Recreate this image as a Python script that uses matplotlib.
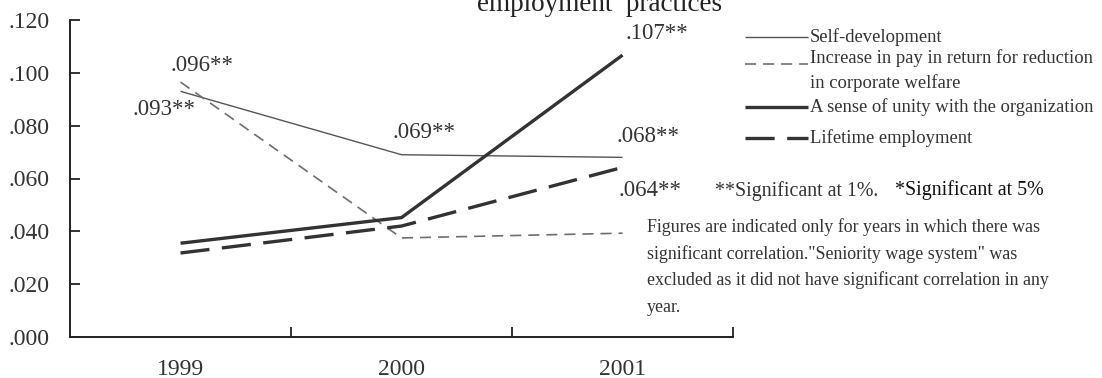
import matplotlib
matplotlib.use("Agg")
import matplotlib.pyplot as plt
from matplotlib.lines import Line2D

plt.rcParams['font.family'] = ['Liberation Serif', 'DejaVu Serif']
plt.rcParams['lines.scale_dashes'] = False

# ---- data ----
years = ['1999', '2000', '2001']
self_development = [0.093, 0.069, 0.068]
pay_increase = [0.0965, 0.0375, 0.0393]
unity = [0.0355, 0.0452, 0.1067]
lifetime = [0.0318, 0.0420, 0.0642]
yticks = [0.000, 0.020, 0.040, 0.060, 0.080, 0.100, 0.120]
ytick_labels = ['.000', '.020', '.040', '.060', '.080', '.100', '.120']
series_names = ['Self-development',
                'Increase in pay in return for reduction\nin corporate welfare',
                'A sense of unity with the organization',
                'Lifetime employment']
# value labels: (series index, year index, text)
value_labels = [(1, 0, '.096**'), (0, 0, '.093**'), (0, 1, '.069**'),
                (2, 2, '.107**'), (0, 2, '.068**'), (3, 2, '.064**')]
title_text = 'employment  practices'
sig_text1 = '**Significant at 1%.'
sig_text2 = '*Significant at 5%'
note_lines = ['Figures are indicated only for years in which there was',
              'significant correlation."Seniority wage system" was',
              'excluded as it did not have significant correlation in any',
              'year.']

W, H = 1102, 378
fig = plt.figure(figsize=(W / 100, H / 100), dpi=100)
ax = fig.add_axes([70 / W, 41 / H, 663 / W, 317 / H])

def fx(x):
    return x / W

def fy(y):
    return 1 - y / H

styles = [
    dict(color='#555555', lw=1.0, linestyle='-'),
    dict(color='#6e6e6e', lw=1.2, linestyle=(0, (8, 5))),
    dict(color='#333333', lw=2.4, linestyle='-'),
    dict(color='#333333', lw=2.4, linestyle=(0, (21, 9))),
]
all_series = [self_development, pay_increase, unity, lifetime]
xpos = list(range(len(years)))
for vals, st in zip(all_series, styles):
    ax.plot(xpos, vals, solid_capstyle='butt', dash_capstyle='butt', **st)

ax.set_xlim(-0.5, 2.5)
ax.set_ylim(0, 0.12)
ax.set_yticks(yticks)
ax.set_yticklabels(ytick_labels)
ax.set_xticks(xpos)
ax.set_xticklabels(years)
ax.set_xticks([0.5, 1.5, 2.5], minor=True)
ax.tick_params(axis='x', which='major', length=0, pad=16, labelsize=17, labelcolor='#333333')
ax.tick_params(axis='x', which='minor', direction='in', length=7, width=1.3, color='#222222')
ax.tick_params(axis='y', direction='in', length=7, width=1.3, color='#222222', pad=15,
               labelsize=17, labelcolor='#333333')
for s in ['top', 'right']:
    ax.spines[s].set_visible(False)
for s in ['left', 'bottom']:
    ax.spines[s].set_linewidth(1.4)
    ax.spines[s].set_color('#222222')

offsets = {
    '.096**': (21, 17), '.093**': (-16, -18), '.069**': (23, 22),
    '.107**': (34, 22), '.068**': (26, 21), '.064**': (27, -23),
}
for si, yi, txt in value_labels:
    dx, dy = offsets[txt]
    ax.annotate(txt, xy=(yi, all_series[si][yi]), xytext=(dx, dy),
                textcoords='offset pixels', ha='center', va='center',
                fontsize=16.5, color='#333333', annotation_clip=False)

# title fragment (cut off at the top, as in the reference)
fig.text(fx(600), fy(11), title_text, ha='center', va='baseline', fontsize=19.5, color='#222222')

# legend drawn manually
leg_rows = [37, 64, 107, 138]
for st, yrow in zip(styles, leg_rows):
    fig.add_artist(Line2D([fx(745), fx(808)], [fy(yrow), fy(yrow)], transform=fig.transFigure,
                          solid_capstyle='butt', dash_capstyle='butt', **st))
leg_text_y = [37, 58, 107, 138]
for i, (name, yrow) in enumerate(zip(series_names, leg_text_y)):
    parts = name.split('\n')
    for j, p in enumerate(parts):
        fig.text(fx(810), fy(yrow + 25 * j), p, ha='left', va='center', fontsize=13.4, color='#333333')

fig.text(fx(715), fy(191), sig_text1, ha='left', va='center', fontsize=14.3, color='#333333')
fig.text(fx(895), fy(190), sig_text2, ha='left', va='center', fontsize=14.4, color='#111111')

for k, line in enumerate(note_lines):
    fig.text(fx(647), fy(227 + 26.7 * k), line, ha='left', va='center', fontsize=12.9, color='#333333')

fig.savefig('out.png', dpi=100)
